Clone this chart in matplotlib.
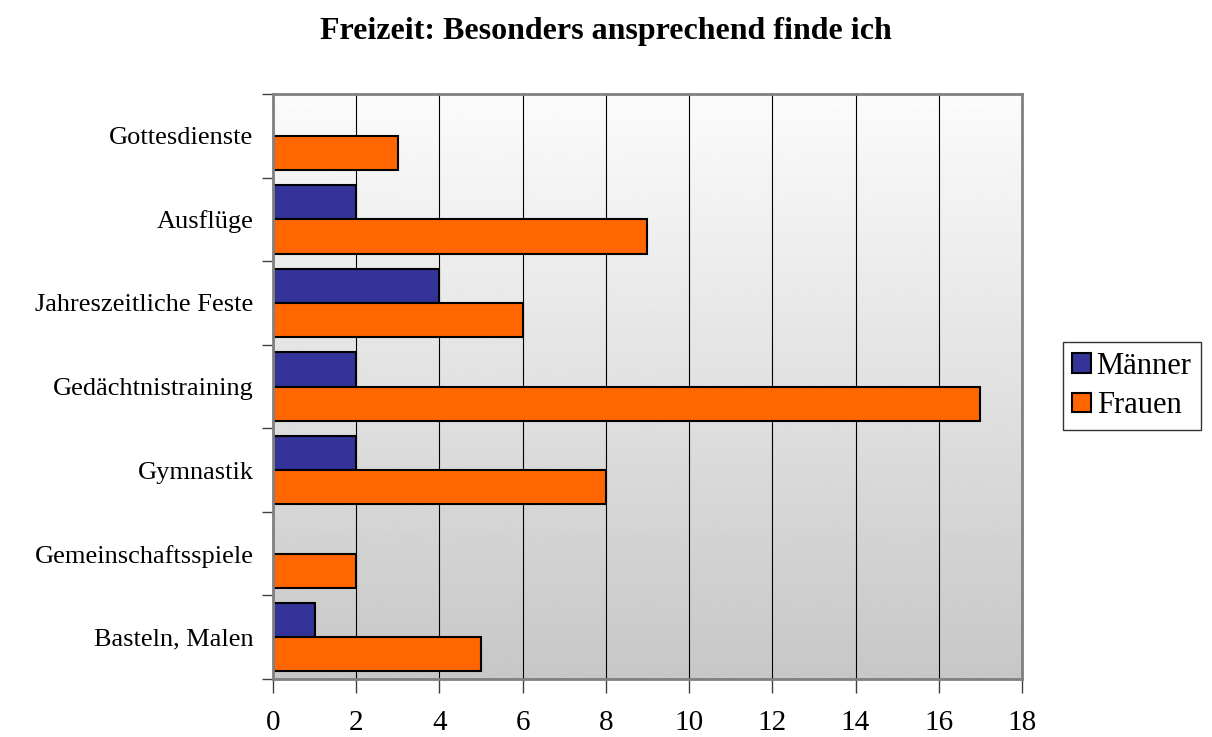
import matplotlib.pyplot as plt
import numpy as np

categories = ["Basteln, Malen", "Gemeinschaftsspiele", "Gymnastik", "Gedächtnistraining",
              "Jahreszeitliche Feste", "Ausflüge", "Gottesdienste"]
maenner = [1, 0, 2, 2, 4, 2, 0]
frauen = [5, 2, 8, 17, 6, 9, 3]
x_ticks = [0, 2, 4, 6, 8, 10, 12, 14, 16, 18]

plt.rcParams["font.family"] = ["Liberation Serif", "DejaVu Serif"]

fig = plt.figure(figsize=(12.12, 7.37), dpi=100)
ax = fig.add_axes([273 / 1212, 1 - 679 / 737, (1022 - 273) / 1212, (679 - 94) / 737])

# gradient background, light at the top, grey at the bottom
grad = np.linspace(0.985, 0.78, 256).reshape(-1, 1)
ax.imshow(grad, cmap="gray", vmin=0, vmax=1, aspect="auto",
          extent=[0, 1, 0, 1], transform=ax.transAxes, zorder=0)

y = np.arange(len(categories))
h = 0.41
ax.barh(y + h / 2, maenner, height=h, color="#333399", edgecolor="black",
        linewidth=1.5, label="Männer", zorder=3)
ax.barh(y - h / 2, frauen, height=h, color="#FF6600", edgecolor="black",
        linewidth=1.5, label="Frauen", zorder=3)

ax.set_xlim(0, 18)
ax.set_ylim(-0.5, len(categories) - 0.5)
ax.set_xticks(x_ticks)
ax.set_xticklabels([str(t) for t in x_ticks], fontsize=21)
ax.set_yticks(y)
ax.set_yticklabels(categories, fontsize=19)
ax.set_yticks(np.arange(-0.5, len(categories), 1), minor=True)
ax.tick_params(axis="y", which="major", length=0, pad=14)
ax.tick_params(axis="y", which="minor", length=8, width=1, color="#404040")
ax.tick_params(axis="x", length=10, width=1, color="#404040", pad=12)

ax.grid(axis="x", color="black", linewidth=0.8, zorder=1)
ax.set_axisbelow(True)
for name, spine in ax.spines.items():
    spine.set_color("#808080")
    spine.set_linewidth(2)
    spine.set_zorder(4)

fig.text(0.5, 1 - 31 / 737, "Freizeit: Besonders ansprechend finde ich",
         ha="center", va="center", fontsize=23, fontweight="bold")

leg = fig.legend(loc="center left", bbox_to_anchor=(1063 / 1212, 1 - 386 / 737),
                 fontsize=22, frameon=True, fancybox=False, handlelength=0.6,
                 handleheight=0.6, handletextpad=0.2, borderpad=0.3,
                 labelspacing=0.35, borderaxespad=0)
leg.get_frame().set_edgecolor("black")
leg.get_frame().set_linewidth(1)

fig.savefig("out.png", dpi=100)
